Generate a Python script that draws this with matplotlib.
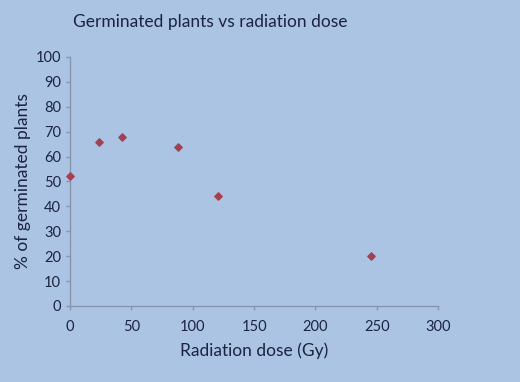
import matplotlib
matplotlib.use("Agg")
import matplotlib.pyplot as plt

dose = [0, 24, 42, 88, 121, 245]
germinated = [52, 66, 68, 64, 44, 20]
xticks = [0, 50, 100, 150, 200, 250, 300]
yticks = list(range(0, 101, 10))

bg = "#abc4e4"
txt = "#1b2440"
axc = "#8796ab"

plt.rcParams['font.family'] = ['Lato', 'DejaVu Sans']

fig = plt.figure(figsize=(5.2, 3.82), dpi=100, facecolor=bg)
ax = fig.add_axes([0.1346, 0.199, 0.708, 0.652], facecolor=bg)
ax.scatter(dose, germinated, marker='D', s=14, color="#a3414f", zorder=3, clip_on=False)
ax.set_xlim(0, 300)
ax.set_ylim(0, 100)
ax.set_xticks(xticks)
ax.set_yticks(yticks)
for s in ['top', 'right']:
    ax.spines[s].set_visible(False)
for s in ['left', 'bottom']:
    ax.spines[s].set_color(axc)
    ax.spines[s].set_linewidth(1.0)
ax.tick_params(colors=axc, labelcolor=txt, labelsize=10.5, length=3, width=1)
ax.tick_params(axis='x', pad=7)
ax.set_xlabel("Radiation dose (Gy)", fontsize=12.5, color=txt, labelpad=6)
ax.set_ylabel("% of germinated plants", fontsize=12.5, color=txt, labelpad=3)
fig.text(0.14, 0.942, "Germinated plants vs radiation dose", fontsize=12.5, color=txt, ha='left', va='center')
fig.savefig("out.png", dpi=100, facecolor=bg)
